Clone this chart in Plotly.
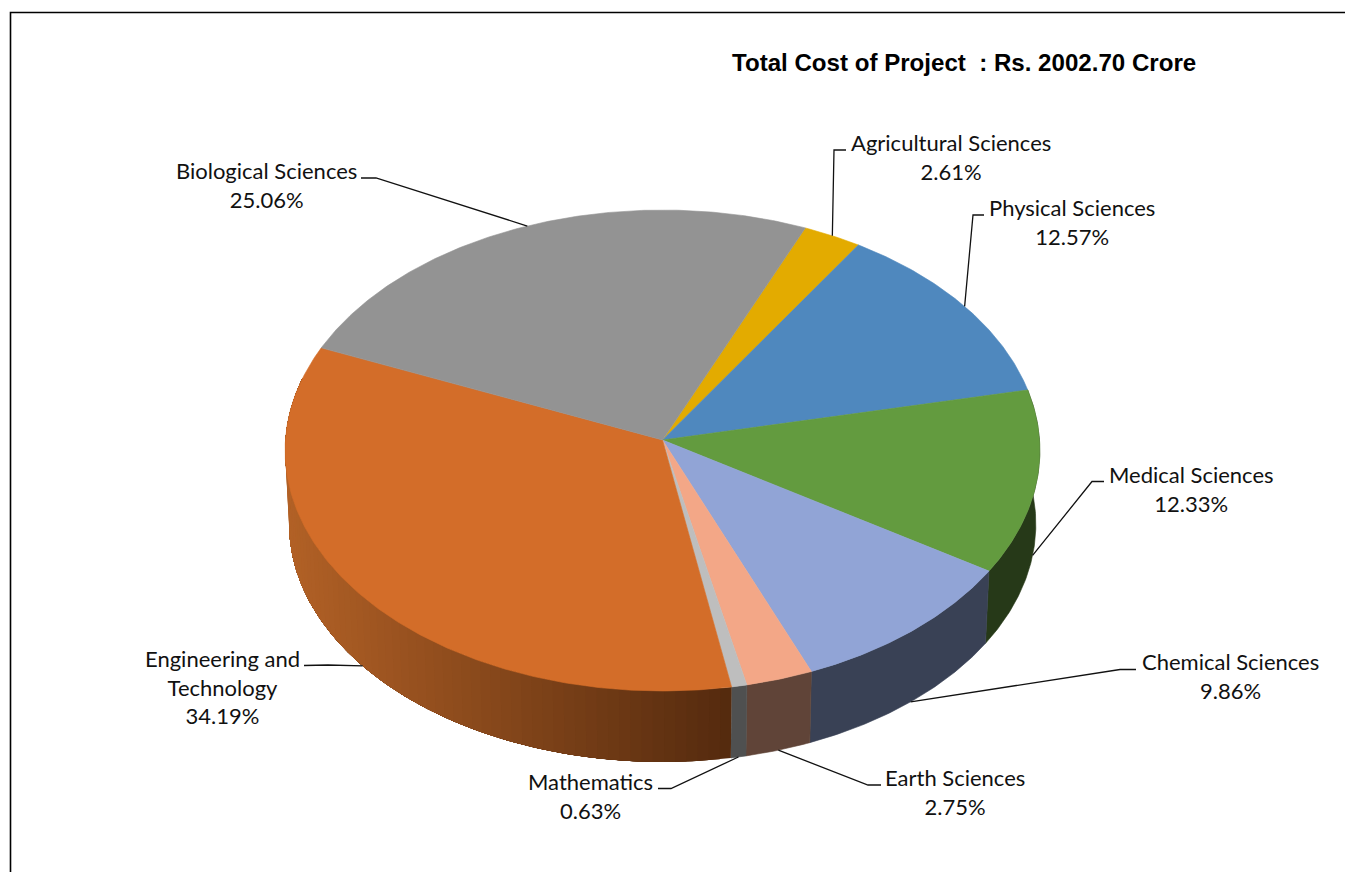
import math
import plotly.graph_objects as go

# ---- data ----
categories = ["Agricultural Sciences", "Physical Sciences", "Medical Sciences", "Chemical Sciences",
              "Earth Sciences", "Mathematics", "Engineering and<br>Technology", "Biological Sciences"]
shares = [2.61, 12.57, 12.33, 9.86, 2.75, 0.63, 34.19, 25.06]
chart_title = "Total Cost of Project  : Rs. 2002.70 Crore"

# ---- styles ----
top_colors = ["#E3AB00", "#4F88BE", "#639B3F", "#91A4D6", "#F3A787", "#BEBEBE", "#D36D29", "#939393"]
side_colors = [None, None, "#263918", "#394155", "#604438", "#4F5050", "GRAD", None]
GRAD_L, GRAD_R = (178, 97, 38), (84, 42, 14)

# ---- layout of the 3-D projection (pixels of the page) ----
W, H = 1345, 872
START = 23.2          # degrees clockwise from 12 o'clock
PERSP = 0.0437
TOP = dict(cx=662.5, cy=440.0, rx=377.0, ry=240.0)
BOT = dict(cx=662.5, cy=513.7, rx=373.0, ry=237.4)
SANS = "Lato"
LABEL_SIZE = 22

# label centre (x, y of block centre) and leader elbows; last flag: leader ends on which rim
label_layout = [
    (951, 157, [(834, 150), (846, 150)], "top"),
    (1072, 222, [(973, 215), (984, 215)], "top"),
    (1191, 489, [(1092, 481.5), (1104, 481.5)], "bot"),
    (1230, 676, [(1120, 669.5), (1136, 669.5)], "bot"),
    (955, 792, [(868, 785), (881, 785)], "bot"),
    (590, 796, [(671, 788.5), (658, 788.5)], "bot"),
    (222, 687, [(328, 665), (304, 665.5)], "bot"),
    (266, 185, [(376, 178), (361, 178)], "top"),
]


def project(theta_deg, e):
    t = math.radians(theta_deg)
    X, Y = math.sin(t), -math.cos(t)
    d = 1 - PERSP * Y
    return e["cx"] + e["rx"] * X / d, e["cy"] + e["ry"] * Y / d


def arc(a, b, e, step=0.5):
    n = max(2, int(abs(b - a) / step) + 1)
    return [project(a + (b - a) * i / (n - 1), e) for i in range(n)]


total = sum(shares)
edges = [START]
for v in shares:
    edges.append(edges[-1] + v / total * 360)

fig = go.Figure()


def poly(pts, color, lw=0.6):
    xs = [p[0] for p in pts] + [pts[0][0]]
    ys = [p[1] for p in pts] + [pts[0][1]]
    fig.add_trace(go.Scatter(x=xs, y=ys, mode="lines", fill="toself", fillcolor=color,
                             line=dict(color=color, width=lw), hoverinfo="skip", showlegend=False))


# side walls
for i, col in enumerate(side_colors):
    if col is None:
        continue
    a, b = edges[i], edges[i + 1]
    if col != "GRAD":
        poly(arc(a, b, TOP) + arc(b, a, BOT), col)
    else:
        # painter's order: every band reaches to the far end and the next one covers it, so no seams
        n = 70
        x_r = project(a, BOT)[0]
        x_l = TOP["cx"] - BOT["rx"]
        far = min(b, 285.0)
        for k in range(n):
            s0, s1 = a + (far - a) * k / n, a + (far - a) * (k + 1) / n
            xm = project((s0 + s1) / 2, BOT)[0]
            f = min(1, max(0, (xm - x_l) / (x_r - x_l)))
            c = tuple(round(GRAD_L[j] + (GRAD_R[j] - GRAD_L[j]) * f) for j in range(3))
            poly(arc(s0, far, TOP) + arc(far, s0, BOT), "rgb(%d,%d,%d)" % c, lw=0)

# top faces
apex = (TOP["cx"], TOP["cy"])
for i, col in enumerate(top_colors):
    poly([apex] + arc(edges[i], edges[i + 1], TOP), col)

# leader lines and labels
annotations = []
for i, name in enumerate(categories):
    lx, ly, elbows, rim = label_layout[i]
    mid = (edges[i] + edges[i + 1]) / 2
    start = project(mid, TOP if rim == "top" else BOT)
    pts = [start] + elbows
    fig.add_trace(go.Scatter(x=[p[0] for p in pts], y=[p[1] for p in pts], mode="lines",
                             line=dict(color="#111111", width=1.3), hoverinfo="skip", showlegend=False))
    annotations.append(dict(x=lx, y=ly, xref="x", yref="y", showarrow=False, xanchor="center", yanchor="middle",
                            align="center", text="%s<br>%.2f%%" % (name, shares[i]),
                            font=dict(family=SANS, size=LABEL_SIZE, color="#111111")))

annotations.append(dict(x=964, y=62, xref="x", yref="y", showarrow=False, xanchor="center", yanchor="middle",
                        text="<b>%s</b>" % chart_title.replace("  ", "\u00a0 "),
                        font=dict(family="Liberation Sans", size=24.1, color="#000000")))

fig.update_layout(
    width=W, height=H, margin=dict(l=0, r=0, t=0, b=0),
    paper_bgcolor="white", plot_bgcolor="white", showlegend=False,
    xaxis=dict(range=[0, W], visible=False, fixedrange=True),
    yaxis=dict(range=[H, 0], visible=False, fixedrange=True),
    annotations=annotations,
    shapes=[dict(type="rect", xref="x", yref="y", x0=10.5, y0=12.5, x1=W + 20, y1=H + 20,
                 line=dict(color="#000000", width=1.6), fillcolor="rgba(0,0,0,0)", layer="below")],
)

fig.write_html("out.html", config=dict(displayModeBar=False),
               post_script="document.body.style.margin='0';")
